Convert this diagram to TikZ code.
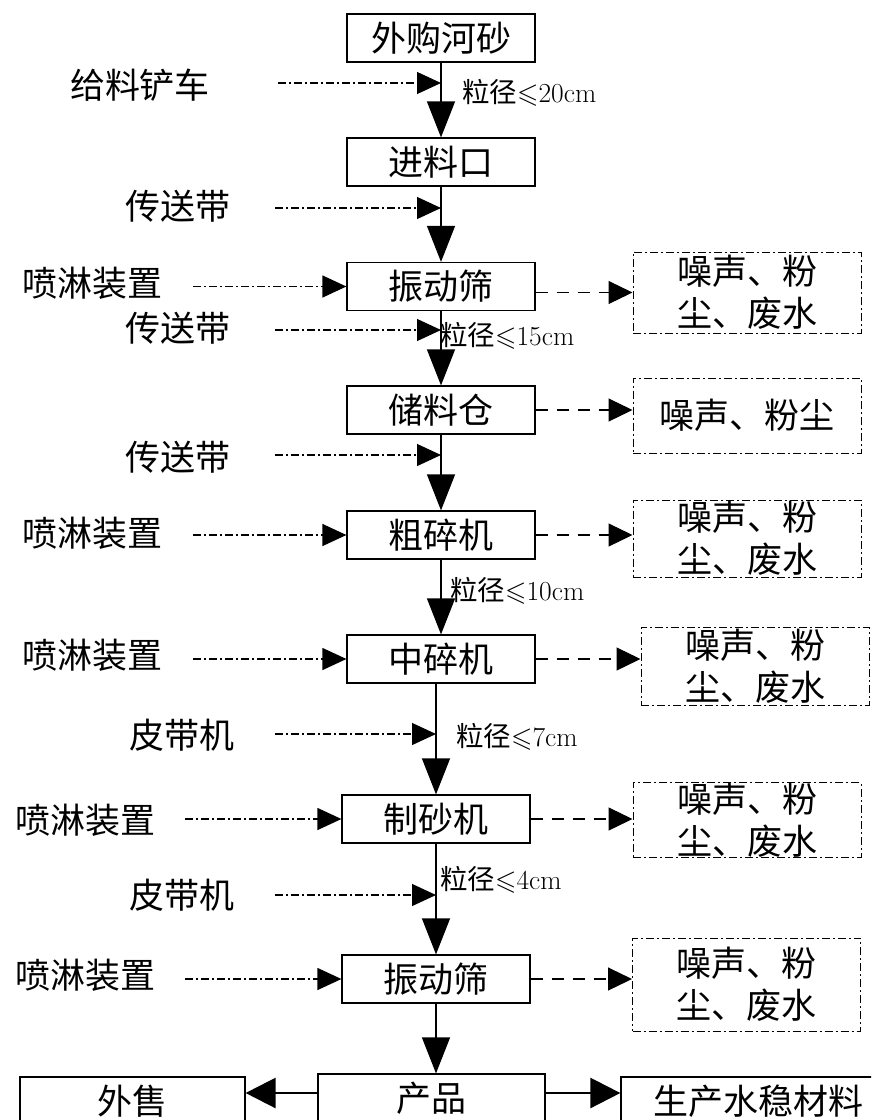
\documentclass[tikz,border=0pt]{standalone}
\usepackage{amssymb}
\usepackage{fontspec}
\newfontfamily\cjk{Noto Sans CJK SC}
\usetikzlibrary{arrows.meta}
\begin{document}
\begin{tikzpicture}[x=1pt,y=-1pt,
  box/.style={draw,line width=1.2pt,minimum width=188pt,minimum height=48pt,inner sep=0pt,font=\cjk\fontsize{35}{38}\selectfont},
  emis/.style={draw,line width=1pt,dash pattern=on 8pt off 3pt on 2pt off 3pt,minimum width=228pt,inner sep=0pt,align=center,font=\cjk\fontsize{35}{42}\selectfont},
  lab/.style={font=\cjk\fontsize{35}{38}\selectfont,inner sep=0pt},
  sz/.style={font=\cjk\fontsize{27.5}{30}\selectfont,inner sep=0pt,anchor=west},
  flow/.style={line width=1.2pt,-{Triangle[length=36pt,width=28pt]}},
  feed/.style={line width=1.2pt,dash pattern=on 8pt off 3pt on 2pt off 3pt,-{Triangle[length=24pt,width=22pt]}},
  emit/.style={line width=1.2pt,dash pattern=on 12pt off 9pt,-{Triangle[length=24pt,width=23pt]}},
  outarr/.style={line width=2.5pt,-{Triangle[length=30pt,width=30pt]}}]
\useasboundingbox (0,0) rectangle (871,1120);
\clip (0,0) rectangle (871,1120);

% main boxes
\node[box] (b1) at (441,38) {外购河砂};
\node[box] (b2) at (441,162) {进料口};
\node[box] (b3) at (441,286.5) {振动筛};
\node[box] (b4) at (441,410) {储料仓};
\node[box] (b5) at (441,535) {粗碎机};
\node[box] (b6) at (441,659) {中碎机};
\node[box] (b7) at (436,819) {制砂机};
\node[box] (b8) at (436,979) {振动筛};
\node[box,minimum width=227pt] (prod) at (431.5,1098) {产品};
\node[box,minimum width=225pt] (sell) at (132.5,1101) {外售};
\node[box,minimum width=274pt] (make) at (758,1101) {生产水稳材料};

% emission boxes
\node[emis,minimum height=81pt] (e3) at (747,292.5) {噪声、粉\\尘、废水};
\node[emis,minimum height=75pt] (e4) at (747,415.5) {噪声、粉尘};
\node[emis,minimum height=77pt] (e5) at (747,538.5) {噪声、粉\\尘、废水};
\node[emis,minimum height=78pt] (e6) at (755,666) {噪声、粉\\尘、废水};
\node[emis,minimum height=74pt] (e7) at (747,820) {噪声、粉\\尘、废水};
\node[emis,minimum height=93pt] (e8) at (746.5,984.5) {噪声、粉\\尘、废水};

% left labels
\node[lab] (l1) at (140,85) {给料铲车};
\node[lab] (l2) at (178,206) {传送带};
\node[lab] (l3) at (93,283) {喷淋装置};
\node[lab] (l4) at (178,328) {传送带};
\node[lab] (l5) at (178,457) {传送带};
\node[lab] (l6) at (93,533) {喷淋装置};
\node[lab] (l7) at (93,655) {喷淋装置};
\node[lab] (l8) at (182,735) {皮带机};
\node[lab] (l9) at (86,820) {喷淋装置};
\node[lab] (l10) at (182,895) {皮带机};
\node[lab] (l11) at (86,975) {喷淋装置};

% size labels
\node[sz] (z1) at (462,93) {粒径$\leqslant${\rmfamily 20cm}};
\node[sz] (z2) at (440,336) {粒径$\leqslant${\rmfamily 15cm}};
\node[sz] (z3) at (450,591) {粒径$\leqslant${\rmfamily 10cm}};
\node[sz] (z4) at (456,737) {粒径$\leqslant${\rmfamily 7cm}};
\node[sz] (z5) at (440,880) {粒径$\leqslant${\rmfamily 4cm}};

% main flow
\draw[flow] (b1.south) -- (b2.north);
\draw[flow] (b2.south) -- (b3.north);
\draw[flow] (b3.south) -- (b4.north);
\draw[flow] (b4.south) -- (b5.north);
\draw[flow] (b5.south) -- (b6.north);
\draw[flow] (b6.south -| b7.north) -- (b7.north);
\draw[flow] (b7.south) -- (b8.north);
\draw[flow] (b8.south) -- (b8.south |- prod.north);
\draw[outarr] ([yshift=5pt]prod.west) -- ([yshift=5pt]prod.west -| sell.east);
\draw[outarr] ([yshift=5pt]prod.east) -- ([yshift=5pt]prod.east -| make.west);

% feed arrows
\coordinate (s1) at (278,83);
\coordinate (s2) at (275,208);
\coordinate (s3) at (193,286.5);
\coordinate (s4) at (275,330);
\coordinate (s5) at (275,455);
\coordinate (s6) at (193,535);
\coordinate (s7) at (193,659);
\coordinate (s8) at (275,734);
\coordinate (s9) at (185,819);
\coordinate (s10) at (275,895);
\coordinate (s11) at (185,979);
\draw[feed] (s1) -- (s1 -| b1.south);
\draw[feed] (s2) -- (s2 -| b2.south);
\draw[feed] (s3) -- (b3.west);
\draw[feed] (s4) -- (s4 -| b3.south);
\draw[feed] (s5) -- (s5 -| b4.south);
\draw[feed] (s6) -- (b5.west);
\draw[feed] (s7) -- (b6.west);
\draw[feed] (s8) -- (s8 -| b7.north);
\draw[feed] (s9) -- (b7.west);
\draw[feed] (s10) -- (s10 -| b7.south);
\draw[feed] (s11) -- (b8.west);

% emission arrows
\draw[emit] ([yshift=-6pt]b3.east) -- ([yshift=-6pt]b3.east -| e3.west);
\draw[emit] (b4.east) -- (b4.east -| e4.west);
\draw[emit] (b5.east) -- (b5.east -| e5.west);
\draw[emit] (b6.east) -- (b6.east -| e6.west);
\draw[emit] (b7.east) -- (b7.east -| e7.west);
\draw[emit] (b8.east) -- (b8.east -| e8.west);
\end{tikzpicture}
\end{document}
